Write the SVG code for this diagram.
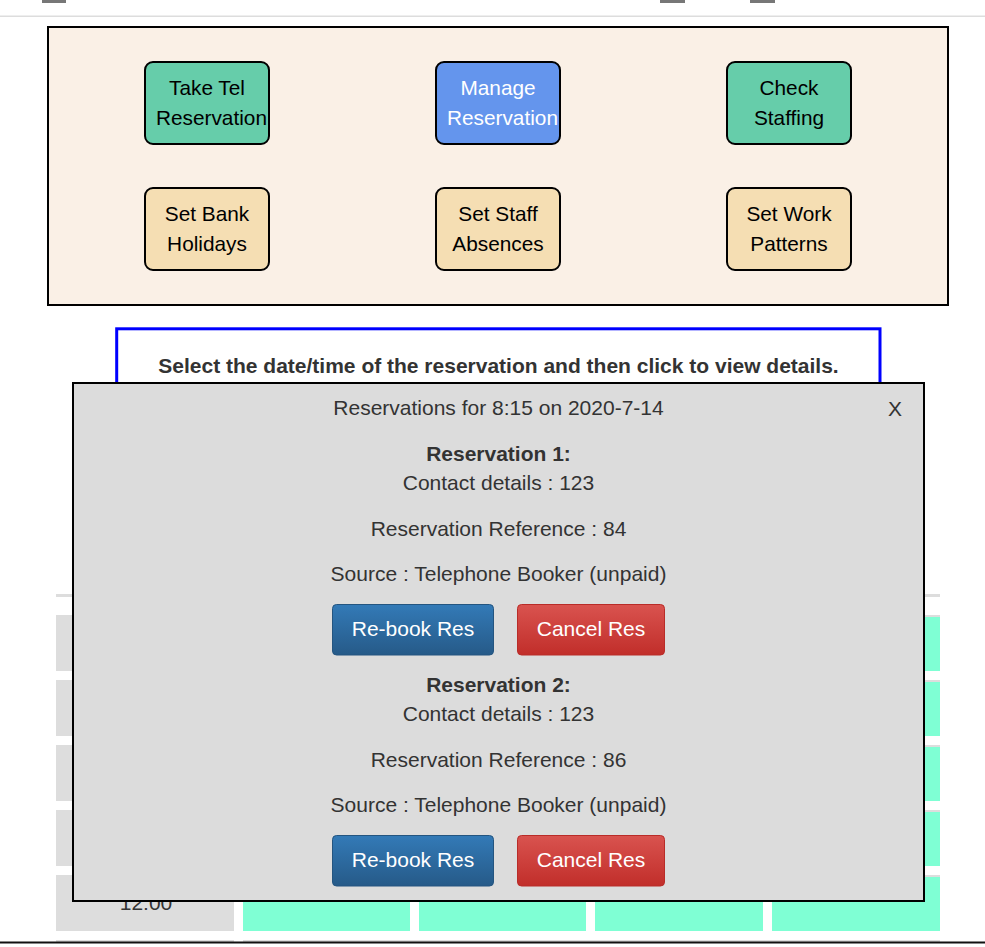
<svg xmlns="http://www.w3.org/2000/svg" width="985" height="947" viewBox="0 0 985 947">
<defs>
<linearGradient id="gBlue" x1="0" y1="0" x2="0" y2="1"><stop offset="0" stop-color="#337ab7"/><stop offset="1" stop-color="#265a88"/></linearGradient>
<linearGradient id="gRed" x1="0" y1="0" x2="0" y2="1"><stop offset="0" stop-color="#d9534f"/><stop offset="1" stop-color="#c12e2a"/></linearGradient>
</defs>
<style>
text{font-family:"Liberation Sans",Arial,Helvetica,sans-serif}
.node{stroke:#000;stroke-width:2}
.nt{font-size:20.8px;fill:#000;text-anchor:middle}
.mt{font-size:21px;fill:#333;text-anchor:middle}
.mb{font-size:21px;fill:#333;text-anchor:middle;font-weight:bold}
.bt{font-size:21px;fill:#fff;text-anchor:middle}
.cg{fill:#dddddd}
.ca{fill:#7fffd4}
</style>
<rect width="985" height="947" fill="#fff"/>
<!-- top bar -->
<g id="topbar">
<rect x="42" y="0" width="24" height="3" fill="#777"/>
<rect x="660" y="0" width="25" height="3" fill="#777"/>
<rect x="750" y="0" width="25" height="3" fill="#777"/>
<rect x="0" y="15.5" width="985" height="1.5" fill="#dddddd"/>
</g>
<!-- menu panel -->
<g id="panel">
<rect x="48" y="27" width="900" height="278" fill="#faf0e6" stroke="#000" stroke-width="2"/>
</g>
<g id="node-take-tel">
<rect class="node" x="145" y="62" width="124" height="82" rx="8" fill="#66cdaa"/>
<text class="nt" x="207" y="95">Take Tel</text>
<text class="nt" x="211.5" y="125">Reservation</text>
</g>
<g id="node-manage">
<rect class="node" x="436" y="62" width="124" height="82" rx="8" fill="#6495ed"/>
<text class="nt" x="498" y="95" style="fill:#fff">Manage</text>
<text class="nt" x="502.5" y="125" style="fill:#fff">Reservation</text>
</g>
<g id="node-check">
<rect class="node" x="727" y="62" width="124" height="82" rx="8" fill="#66cdaa"/>
<text class="nt" x="789" y="95">Check</text>
<text class="nt" x="789" y="125">Staffing</text>
</g>
<g id="node-bank">
<rect class="node" x="145" y="188" width="124" height="82" rx="8" fill="#f5deb3"/>
<text class="nt" x="207" y="221">Set Bank</text>
<text class="nt" x="207" y="251">Holidays</text>
</g>
<g id="node-absences">
<rect class="node" x="436" y="188" width="124" height="82" rx="8" fill="#f5deb3"/>
<text class="nt" x="498" y="221">Set Staff</text>
<text class="nt" x="498" y="251">Absences</text>
</g>
<g id="node-patterns">
<rect class="node" x="727" y="188" width="124" height="82" rx="8" fill="#f5deb3"/>
<text class="nt" x="789" y="221">Set Work</text>
<text class="nt" x="789" y="251">Patterns</text>
</g>
<!-- instruction box -->
<g id="instructions">
<rect x="116.7" y="328.8" width="763.3" height="300" fill="#fff" stroke="#0000ff" stroke-width="3"/>
<text class="mb" x="498.5" y="372.5">Select the date/time of the reservation and then click to view details.</text>
</g>
<!-- table -->
<g id="table">
<rect class="cg" x="56" y="594" width="884" height="3"/>
<g id="row1">
<rect class="cg" x="56" y="615" width="178" height="56"/>
<rect class="cg" x="243" y="615" width="167" height="56"/><rect class="ca" x="243" y="617" width="167" height="54"/>
<rect class="cg" x="419" y="615" width="167" height="56"/><rect class="ca" x="419" y="617" width="167" height="54"/>
<rect class="cg" x="595" y="615" width="168" height="56"/><rect class="ca" x="595" y="617" width="168" height="54"/>
<rect class="cg" x="772" y="615" width="168" height="56"/><rect class="ca" x="772" y="617" width="168" height="54"/>
</g>
<g id="row2">
<rect class="cg" x="56" y="680" width="178" height="56"/>
<rect class="cg" x="243" y="680" width="167" height="56"/><rect class="ca" x="243" y="682" width="167" height="54"/>
<rect class="cg" x="419" y="680" width="167" height="56"/><rect class="ca" x="419" y="682" width="167" height="54"/>
<rect class="cg" x="595" y="680" width="168" height="56"/><rect class="ca" x="595" y="682" width="168" height="54"/>
<rect class="cg" x="772" y="680" width="168" height="56"/><rect class="ca" x="772" y="682" width="168" height="54"/>
</g>
<g id="row3">
<rect class="cg" x="56" y="745" width="178" height="56"/>
<rect class="cg" x="243" y="745" width="167" height="56"/><rect class="ca" x="243" y="747" width="167" height="54"/>
<rect class="cg" x="419" y="745" width="167" height="56"/><rect class="ca" x="419" y="747" width="167" height="54"/>
<rect class="cg" x="595" y="745" width="168" height="56"/><rect class="ca" x="595" y="747" width="168" height="54"/>
<rect class="cg" x="772" y="745" width="168" height="56"/><rect class="ca" x="772" y="747" width="168" height="54"/>
</g>
<g id="row4">
<rect class="cg" x="56" y="810" width="178" height="56"/>
<rect class="cg" x="243" y="810" width="167" height="56"/><rect class="ca" x="243" y="812" width="167" height="54"/>
<rect class="cg" x="419" y="810" width="167" height="56"/><rect class="ca" x="419" y="812" width="167" height="54"/>
<rect class="cg" x="595" y="810" width="168" height="56"/><rect class="ca" x="595" y="812" width="168" height="54"/>
<rect class="cg" x="772" y="810" width="168" height="56"/><rect class="ca" x="772" y="812" width="168" height="54"/>
</g>
<g id="row5">
<rect class="cg" x="56" y="875" width="178" height="56"/>
<rect class="cg" x="243" y="875" width="167" height="56"/><rect class="ca" x="243" y="877" width="167" height="54"/>
<rect class="cg" x="419" y="875" width="167" height="56"/><rect class="ca" x="419" y="877" width="167" height="54"/>
<rect class="cg" x="595" y="875" width="168" height="56"/><rect class="ca" x="595" y="877" width="168" height="54"/>
<rect class="cg" x="772" y="875" width="168" height="56"/><rect class="ca" x="772" y="877" width="168" height="54"/>
<text class="mt" x="146" y="910">12:00</text>
</g>
<rect class="cg" x="56" y="940" width="178" height="2"/>
<rect class="cg" x="243" y="940" width="697" height="2"/>
</g>
<!-- modal -->
<g id="modal">
<rect x="73" y="383" width="851" height="518" fill="#dcdcdc" stroke="#000" stroke-width="2"/>
<text class="mt" x="498.5" y="415">Reservations for 8:15 on 2020-7-14</text>
<text class="mt" x="895" y="415.5">X</text>
</g>
<g id="reservation-1">
<text class="mb" x="498.5" y="461">Reservation 1:</text>
<text class="mt" x="498.5" y="490">Contact details : 123</text>
<text class="mt" x="498.5" y="535.5">Reservation Reference : 84</text>
<text class="mt" x="498.5" y="580.5">Source : Telephone Booker (unpaid)</text>
<g id="rebook-1">
<rect x="332.5" y="604.5" width="161" height="50.5" rx="4" fill="url(#gBlue)" stroke="#245580" stroke-width="1"/>
<text class="bt" x="413" y="635.5">Re-book Res</text>
</g>
<g id="cancel-1">
<rect x="517.5" y="604.5" width="147" height="50.5" rx="4" fill="url(#gRed)" stroke="#b92c28" stroke-width="1"/>
<text class="bt" x="591" y="635.5">Cancel Res</text>
</g>
</g>
<g id="reservation-2">
<text class="mb" x="498.5" y="692">Reservation 2:</text>
<text class="mt" x="498.5" y="721">Contact details : 123</text>
<text class="mt" x="498.5" y="766.5">Reservation Reference : 86</text>
<text class="mt" x="498.5" y="811.5">Source : Telephone Booker (unpaid)</text>
<g id="rebook-2">
<rect x="332.5" y="835.5" width="161" height="50.5" rx="4" fill="url(#gBlue)" stroke="#245580" stroke-width="1"/>
<text class="bt" x="413" y="866.5">Re-book Res</text>
</g>
<g id="cancel-2">
<rect x="517.5" y="835.5" width="147" height="50.5" rx="4" fill="url(#gRed)" stroke="#b92c28" stroke-width="1"/>
<text class="bt" x="591" y="866.5">Cancel Res</text>
</g>
</g>
<g id="connectors"></g>
<rect x="0" y="941.5" width="985" height="2" fill="#111"/>
</svg>
